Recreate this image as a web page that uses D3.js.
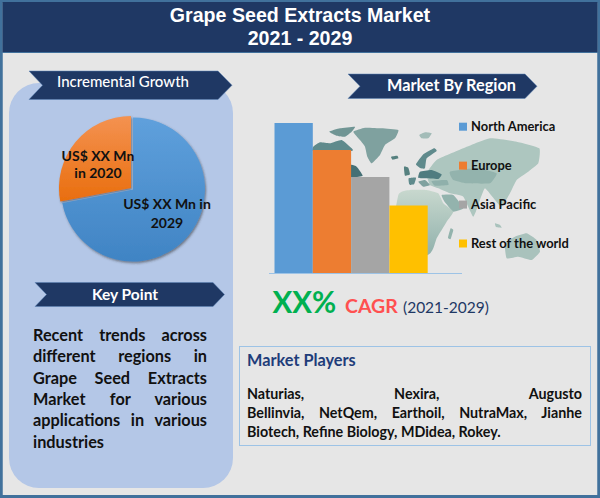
<!DOCTYPE html>
<html lang="en">
<head>
<meta charset="utf-8">
<title>Grape Seed Extracts Market</title>
<script src="https://cdn.jsdelivr.net/npm/d3@7"></script>
<style>
  html, body { margin: 0; padding: 0; background: #e6e6e6; }
  svg { display: block; font-family: Lato, "Open Sans", sans-serif; }
  text { font-weight: 700; }
</style>
</head>
<body>
<div id="viz"></div>
<script>
var titleLines = ["Grape Seed Extracts Market", "2021 - 2029"];

// pie
var pieLabels = ["2029", "2020"];
var pieValues = [72, 28];

// bars
var regions = ["North America", "Europe", "Asia Pacific", "Rest of the world"];
var regionValues = [100, 82, 64, 45];
var regionColors = ["#5b9bd5", "#ed7d31", "#a5a5a5", "#ffc000"];

var keyPointLines = ["Recent trends across", "different regions in", "Grape Seed Extracts",
  "Market for various", "applications in various", "industries"];
var playerLines = ["Naturias, Nexira, Augusto", "Bellinvia, NetQem, Earthoil, NutraMax, Jianhe",
  "Biotech, Refine Biology, MDidea, Rokey."];

// backdrop world map, rough outlines on its own 0-700 grid
var mapShapes = [
  {fill: "#7fa19f", pts: [[130,50],[165,38],[215,40],[265,45],[255,70],[225,90],[210,120],[185,145],[172,125],[165,95],[150,75]]},
  {fill: "#6f9594", pts: [[58,50],[90,40],[135,35],[125,50],[105,65],[80,62]]},
  {fill: "#5f8a8c", pts: [[10,95],[30,82],[60,85],[95,75],[125,100],[125,108],[10,108]]},
  {fill: "#446f75", pts: [[123,150],[140,155],[158,182],[123,186]]},
  {fill: "#55807f", pts: [[243,125],[262,122],[265,130],[248,134]]},
  {fill: "#a3bcb8", pts: [[328,60],[345,52],[365,55],[355,70],[335,70]]},
  {fill: "#adc6bf", pts: [[380,135],[460,100],[540,70],[620,80],[688,100],[685,145],[655,170],[620,195],[600,235],[575,275],[555,255],[525,220],[510,255],[490,305],[460,245],[420,235],[385,220],[360,210],[350,175]]},
  {fill: "#93b3ad", pts: [[420,170],[500,160],[560,175],[540,205],[470,205],[430,195]]},
  {fill: "#5f8a8c", pts: [[318,148],[340,118],[372,100],[380,108],[350,130],[345,160],[332,160]]},
  {fill: "#4f7c80", pts: [[330,170],[365,165],[395,178],[385,192],[350,190],[325,188]]},
  {fill: "#5f8a8c", pts: [[296,190],[318,188],[312,208],[298,208]]},
  {fill: "#7fa19f", pts: [[325,200],[345,195],[360,210],[340,215]]},
  {fill: "#8fb0ab", pts: [[365,198],[410,195],[415,210],[375,212]]},
  {fill: "#55807f", pts: [[282,155],[295,158],[300,178],[285,182]]},
  {fill: "url(#mapAfrica)", pts: [[265,240],[300,225],[350,225],[385,235],[400,265],[430,290],[410,320],[395,345],[380,370],[370,400],[353,420],[240,420]]},
  {fill: "#93b3ad", pts: [[395,240],[430,240],[460,280],[430,290],[405,262]]},
  {fill: "#93b3ad", pts: [[422,340],[430,345],[422,372],[414,368]]},
  {fill: "#a9c2bc", pts: [[585,385],[615,365],[650,355],[680,375],[690,410],[665,435],[625,425],[590,430]]},
  {fill: "#a9c2bc", pts: [[555,325],[570,330],[575,338],[558,336]]}
];

var width = 600, height = 498;
var svg = d3.select("#viz").append("svg").attr("width", width).attr("height", height);
var defs = svg.append("defs");

function gradient(id, top, bottom) {
  var g = defs.append("linearGradient").attr("id", id).attr("x1", 0).attr("y1", 0).attr("x2", 0).attr("y2", 1);
  g.append("stop").attr("offset", "0%").attr("stop-color", top);
  g.append("stop").attr("offset", "100%").attr("stop-color", bottom);
}
gradient("pieBlue", "#5fa0dc", "#4084c4");
gradient("pieOrange", "#f49251", "#e96e0e");
gradient("mapAfrica", "#c8d8ce", "#8fb0ab");

defs.append("filter").attr("id", "pieShadow")
  .attr("x", "-10%").attr("y", "-10%").attr("width", "125%").attr("height", "125%")
  .append("feDropShadow").attr("dx", 1).attr("dy", 1.5).attr("stdDeviation", 1.2)
  .attr("flood-color", "#333").attr("flood-opacity", 0.55);
defs.append("filter").attr("id", "mapSoft")
  .append("feGaussianBlur").attr("stdDeviation", 0.5);

// frame + header
svg.append("rect").attr("x", 1.25).attr("y", 1).attr("width", width - 2.5).attr("height", height - 2.5)
  .attr("fill", "#e6e6e6").attr("stroke", "#41719c").attr("stroke-width", 3);
svg.append("rect").attr("x", 2.5).attr("y", 2).attr("width", width - 5).attr("height", 50.5)
  .attr("fill", "#1f3864");
svg.append("rect").attr("x", 2.5).attr("y", 52).attr("width", width - 5).attr("height", 1)
  .attr("fill", "#41719c");
svg.selectAll("text.title").data(titleLines).enter().append("text")
  .attr("class", "title")
  .attr("x", 300).attr("y", function(d, i) { return 22 + i * 23; })
  .attr("text-anchor", "middle").attr("fill", "#fff")
  .style("font-family", "'Liberation Sans', Arial, sans-serif").style("font-size", "19.6px")
  .text(function(d) { return d; });

// left panel
svg.append("rect").attr("x", 9).attr("y", 83).attr("width", 224).attr("height", 405)
  .attr("rx", 30).attr("ry", 30).attr("fill", "#b4c7e7");

function banner(x0, x1, y0, y1, notch, tip, label, cx, base, size, weight) {
  var ym = (y0 + y1) / 2;
  var pts = [[x0, y0], [x1, y0], [x1 + tip, ym], [x1, y1], [x0, y1], [x0 + notch, ym]];
  svg.append("path").attr("d", d3.line()(pts) + "Z").attr("fill", "#1f3864")
    .attr("stroke", "#5b82b5").attr("stroke-width", 0.5);
  svg.append("text").attr("x", cx).attr("y", base).attr("text-anchor", "middle")
    .attr("fill", "#fff").style("font-size", size + "px").style("font-weight", weight).text(label);
}
banner(29, 218, 71, 99.5, 13.5, 14, "Incremental Growth", 123, 87, 15, 500);
banner(35, 213, 282.5, 306.5, 11.5, 11.5, "Key Point", 125, 300, 15.5, 700);
banner(348, 525, 74, 98.5, 12, 12, "Market By Region", 451.5, 91, 16.3, 700);

// pie
var pie = d3.pie().sort(null).startAngle(0).endAngle(2 * Math.PI);
var arc = d3.arc().innerRadius(0).outerRadius(72);
var pieG = svg.append("g").attr("transform", "translate(133,189.5)").attr("filter", "url(#pieShadow)");
pieG.selectAll("path").data(pie(pieValues)).enter().append("path")
  .attr("d", arc)
  .attr("fill", function(d, i) { return i === 0 ? "url(#pieBlue)" : "url(#pieOrange)"; })
  .attr("transform", function(d, i) { return i === 1 ? "translate(-2,-1.5)" : null; });

function lines(list, x, y0, dy, size, anchor) {
  list.forEach(function(t, i) {
    svg.append("text").attr("x", x).attr("y", y0 + i * dy).attr("text-anchor", anchor || "middle")
      .attr("fill", "#111").style("font-size", size + "px").text(t);
  });
}
lines(["US$ XX Mn", "in " + pieLabels[1]], 98, 161, 16.5, 14);
lines(["US$ XX Mn in", pieLabels[0]], 167, 209, 19, 14);

// map behind the bars
var mapX = d3.scaleLinear().domain([0, 700]).range([310, 543.3]);
var mapY = d3.scaleLinear().domain([0, 480]).range([115, 275]);
var mapLine = d3.line().x(function(d) { return mapX(d[0]); }).y(function(d) { return mapY(d[1]); })
  .curve(d3.curveCardinalClosed.tension(0.6));
svg.append("g").attr("filter", "url(#mapSoft)").selectAll("path").data(mapShapes).enter().append("path")
  .attr("d", function(d) { return mapLine(d.pts); })
  .attr("fill", function(d) { return d.fill; });

// bars
var x = d3.scaleBand().domain(regions).range([274.5, 427.7]).padding(0);
var y = d3.scaleLinear().domain([0, 100]).range([273, 123]);
svg.append("g").selectAll("rect").data(regions).enter().append("rect")
  .attr("x", function(d) { return x(d); })
  .attr("y", function(d, i) { return y(regionValues[i]); })
  .attr("width", x.bandwidth())
  .attr("height", function(d, i) { return y(0) - y(regionValues[i]); })
  .attr("fill", function(d, i) { return regionColors[i]; });
svg.append("line").attr("x1", 269).attr("x2", 462).attr("y1", 273.5).attr("y2", 273.5)
  .attr("stroke", "#9dc3e6").attr("stroke-width", 1.2);

// legend
var legendY = d3.scalePoint().domain(regions).range([126.7, 243.5]);
var legend = svg.append("g").selectAll("g").data(regions).enter().append("g")
  .attr("transform", function(d) { return "translate(459," + legendY(d) + ")"; });
legend.append("rect").attr("x", 0).attr("y", -4).attr("width", 8).attr("height", 8)
  .attr("fill", function(d, i) { return regionColors[i]; });
legend.append("text").attr("x", 12).attr("y", 4.5).attr("fill", "#111")
  .style("font-size", "12.9px").text(function(d) { return d; });

// CAGR
svg.append("text").attr("x", 272.5).attr("y", 313).attr("fill", "#00b050")
  .style("font-size", "29.5px").text("XX%");
svg.append("text").attr("x", 345).attr("y", 313).attr("fill", "#ff5050")
  .style("font-size", "19.5px").text("CAGR");
svg.append("text").attr("x", 403).attr("y", 313).attr("fill", "#1f3864")
  .style("font-size", "15.5px").style("font-weight", 400).text("(2021-2029)");

// stretch a line out to the column width the way justified text does
function justified(list, x0, x1, y0, dy, size, fill) {
  list.forEach(function(t, i) {
    var el = svg.append("text").attr("x", x0).attr("y", y0 + i * dy).attr("fill", fill)
      .style("font-size", size + "px").text(t);
    if (i === list.length - 1) return;
    var gaps = t.split(" ").length - 1;
    var extra = (x1 - x0 - el.node().getComputedTextLength()) / gaps;
    el.style("word-spacing", extra + "px");
  });
}
justified(keyPointLines, 33, 207, 341, 21.3, 16.3, "#111");

// market players
svg.append("rect").attr("x", 239.5).attr("y", 346.5).attr("width", 351).attr("height", 99)
  .attr("fill", "none").attr("stroke", "#9dc3e6").attr("stroke-width", 1);
svg.append("text").attr("x", 247).attr("y", 366).attr("fill", "#1f3d7a")
  .style("font-size", "16.3px").text("Market Players");
justified(playerLines, 247, 582, 398.5, 19.4, 14.3, "#111");
</script>
</body>
</html>
